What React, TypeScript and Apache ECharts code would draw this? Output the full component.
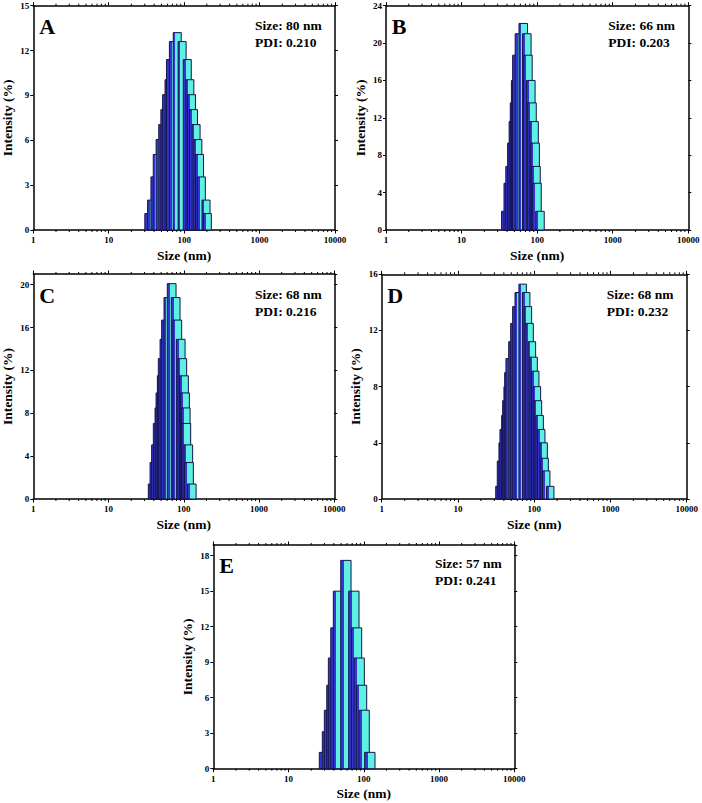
import React, { useEffect, useRef } from "react";
import * as echarts from "echarts";

// ---------- text ----------
const PANEL_LETTERS = ["A", "B", "C", "D", "E"];
const SIZE_LABELS = ["Size: 80 nm", "Size: 66 nm", "Size: 68 nm", "Size: 68 nm", "Size: 57 nm"];
const PDI_LABELS = ["PDI: 0.210", "PDI: 0.203", "PDI: 0.216", "PDI: 0.232", "PDI: 0.241"];
const X_NAME = "Size (nm)";
const Y_NAME = "Intensity (%)";

// ---------- axes ----------
const X_MIN = 1;
const X_MAX = 10000;
const X_MINOR_TICKS = [
  2, 3, 4, 5, 6, 7, 8, 9,
  20, 30, 40, 50, 60, 70, 80, 90,
  200, 300, 400, 500, 600, 700, 800, 900,
  2000, 3000, 4000, 5000, 6000, 7000, 8000, 9000,
];
const Y_MAX = [15, 24, 21, 16, 18.9];
const Y_INTERVAL = [3, 4, 4, 4, 3];

// ---------- data (size nm, intensity %) ----------
const A_SIZES = [34, 37, 41, 44, 48, 52, 55.5, 58.5, 63, 66, 72, 81, 94, 110, 119, 125, 133, 144, 152, 160, 169, 195, 203];
const A_INTENSITY = [1.1, 2.0, 3.55, 5.05, 6.05, 7.05, 8.05, 9.05, 10.05, 11.4, 12.6, 13.2, 12.6, 11.4, 10.05, 9.05, 8.05, 7.05, 6.05, 5.05, 3.55, 2.0, 1.1];

const B_SIZES = [38.5, 41.5, 43.8, 46.3, 48.5, 50.2, 52, 54, 58.3, 65.5, 73, 75.5, 82.5, 85.5, 91, 94, 96.5, 99.5, 109];
const B_INTENSITY = [2.0, 5.0, 6.8, 9.3, 11.6, 13.6, 16.0, 18.7, 21.0, 22.1, 21.0, 18.7, 16.0, 13.6, 11.6, 9.3, 6.8, 5.0, 2.0];

const C_SIZES = [38.6, 40.7, 42.7, 45, 47.4, 48.9, 50.9, 52.4, 55.3, 58, 62.4, 69, 78, 82, 91, 95.5, 100.6, 103.8, 106, 108, 114.7, 117.2, 127.4];
const C_INTENSITY = [1.4, 3.4, 5.05, 7.05, 8.5, 9.9, 11.5, 13.1, 14.9, 16.7, 18.8, 20.1, 18.8, 16.7, 14.9, 13.1, 11.5, 9.9, 8.5, 7.05, 5.05, 3.4, 1.4];

const D_SIZES = [35, 36.7, 38.6, 39.8, 41.9, 43.2, 44.9, 45.9, 47.7, 51.8, 55, 58.4, 62.7, 70.6, 78.5, 82.7, 87, 93.3, 98.2, 103.1, 108.5, 111.9, 117.8, 123.6, 132.9, 136.9, 143.7, 162.1];
const D_INTENSITY = [0.9, 2.7, 4.0, 4.95, 5.95, 7.0, 8.0, 9.0, 10.0, 11.2, 12.5, 13.7, 14.7, 15.3, 14.7, 13.7, 12.5, 11.2, 10.1, 9.1, 8.0, 7.0, 5.95, 4.95, 4.0, 2.9, 2.0, 0.9];

const E_SIZES = [30, 32.9, 35, 37.7, 39.6, 42.6, 46.1, 57.8, 73.8, 80.1, 86.8, 93.3, 101.1, 120.3];
const E_INTENSITY = [1.38, 3.12, 4.94, 7.05, 9.35, 11.9, 15.0, 17.6, 15.0, 11.9, 9.35, 7.05, 4.94, 1.38];

const PANEL_SIZES = [A_SIZES, B_SIZES, C_SIZES, D_SIZES, E_SIZES];
const PANEL_INTENSITY = [A_INTENSITY, B_INTENSITY, C_INTENSITY, D_INTENSITY, E_INTENSITY];

// ---------- layout / style ----------
const LAYOUT = [
  { left: 33.3, top: 5.7, width: 301.7, height: 224.3 },
  { left: 386, top: 5.7, width: 302.3, height: 224.3 },
  { left: 33.3, top: 274, width: 301, height: 225 },
  { left: 381.7, top: 274.3, width: 305, height: 224.7 },
  { left: 213.3, top: 545, width: 301, height: 223.7 },
];
// bar width in decades (log10 units) per panel
const BAR_WIDTH_DEC = [0.106, 0.113, 0.116, 0.098, 0.137];
const LETTER_POS = [
  [39.3, 26.2], [391.7, 26.2], [39.3, 295.5], [387.3, 295.5], [219.3, 565.5],
];
const INFO_POS = [
  [255, 25.5, 42], [608.3, 25.5, 42], [255, 294.7, 311.3], [606.7, 294.7, 311.3], [435, 563.8, 580.5],
];

const FONT = "'Liberation Serif', 'Times New Roman', serif";
const BLUE = "#3535d2";
const CYAN = "#5ef0e2";
const STROKE = "#15154a";

function barFill() {
  return {
    type: "linear",
    x: 0, y: 0, x2: 1, y2: 0,
    colorStops: [
      { offset: 0, color: BLUE },
      { offset: 0.28, color: BLUE },
      { offset: 0.28, color: CYAN },
      { offset: 1, color: CYAN },
    ],
  };
}

function buildOption() {
  const grid: any[] = [];
  const xAxis: any[] = [];
  const yAxis: any[] = [];
  const series: any[] = [];
  const graphic: any[] = [];

  LAYOUT.forEach((l, i) => {
    grid.push({ ...l, containLabel: false, outerBoundsMode: "none" });
    const axisLine = { show: true, onZero: false, lineStyle: { color: "#000", width: 1.5 } };
    xAxis.push({
      type: "log", logBase: 10, gridIndex: i, min: X_MIN, max: X_MAX, position: "bottom",
      axisLine, splitLine: { show: false },
      axisTick: { show: true, length: 3.5, lineStyle: { color: "#000", width: 1 } },
      axisLabel: { show: true, margin: 5.5, fontFamily: FONT, fontWeight: "bold", fontSize: 9, color: "#000", formatter: (v: number) => String(v) },
      name: X_NAME, nameLocation: "middle", nameGap: 18,
      nameTextStyle: { fontFamily: FONT, fontWeight: "bold", fontSize: 13.5, color: "#000" },
    });
    xAxis.push({
      type: "log", logBase: 10, gridIndex: i, min: X_MIN, max: X_MAX, position: "top",
      axisLine, splitLine: { show: false },
      axisTick: { show: true, length: 3.5, lineStyle: { color: "#000", width: 1 } },
      axisLabel: { show: false },
    });
    yAxis.push({
      type: "value", gridIndex: i, min: 0, max: Y_MAX[i], interval: Y_INTERVAL[i], position: "left",
      axisLine, splitLine: { show: false },
      axisTick: { show: true, length: 3, lineStyle: { color: "#000", width: 1 } },
      axisLabel: { show: true, margin: 4, showMaxLabel: Y_MAX[i] % Y_INTERVAL[i] === 0, fontFamily: FONT, fontWeight: "bold", fontSize: 9, color: "#000" },
      name: Y_NAME, nameLocation: "middle", nameGap: 19,
      nameTextStyle: { fontFamily: FONT, fontWeight: "bold", fontSize: 13.5, color: "#000" },
    });
    yAxis.push({
      type: "value", gridIndex: i, min: 0, max: Y_MAX[i], interval: Y_INTERVAL[i], position: "right",
      axisLine, splitLine: { show: false },
      axisTick: { show: true, length: 3, lineStyle: { color: "#000", width: 1 } },
      axisLabel: { show: false },
    });

    const half = BAR_WIDTH_DEC[i] / 2;
    const sizes = PANEL_SIZES[i];
    const vals = PANEL_INTENSITY[i];
    series.push({
      type: "custom",
      xAxisIndex: i * 2,
      yAxisIndex: i * 2,
      silent: true,
      clip: false,
      data: sizes.map((s, k) => [s, vals[k]]),
      renderItem: (_p: any, api: any) => {
        const s = api.value(0) as number;
        const v = api.value(1) as number;
        const f = Math.pow(10, half);
        const p0 = api.coord([s / f, v]);
        const p1 = api.coord([s * f, 0]);
        return {
          type: "rect",
          shape: { x: p0[0], y: p0[1], width: p1[0] - p0[0], height: p1[1] - p0[1] },
          style: { fill: barFill(), stroke: STROKE, lineWidth: 1 },
        };
      },
    });
    const yMax = Y_MAX[i];
    series.push({
      type: "custom",
      xAxisIndex: i * 2,
      yAxisIndex: i * 2,
      silent: true,
      clip: false,
      data: X_MINOR_TICKS.map((v) => [v, 0]),
      renderItem: (_p: any, api: any) => {
        const v = api.value(0) as number;
        const b = api.coord([v, 0]);
        const t = api.coord([v, yMax]);
        return {
          type: "group",
          children: [
            { type: "line", shape: { x1: b[0], y1: b[1], x2: b[0], y2: b[1] + 2 }, style: { stroke: "#000", lineWidth: 1 } },
            { type: "line", shape: { x1: t[0], y1: t[1], x2: t[0], y2: t[1] - 2 }, style: { stroke: "#000", lineWidth: 1 } },
          ],
        };
      },
    });

    graphic.push({
      type: "text", x: LETTER_POS[i][0], y: LETTER_POS[i][1], silent: true,
      style: { text: PANEL_LETTERS[i], font: `bold 22px ${FONT}`, fill: "#000", align: "left", verticalAlign: "middle" },
    });
    graphic.push({
      type: "text", x: INFO_POS[i][0], y: INFO_POS[i][1], silent: true,
      style: { text: SIZE_LABELS[i], font: `bold 13.5px ${FONT}`, fill: "#000", align: "left", verticalAlign: "middle" },
    });
    graphic.push({
      type: "text", x: INFO_POS[i][0], y: INFO_POS[i][2], silent: true,
      style: { text: PDI_LABELS[i], font: `bold 13.5px ${FONT}`, fill: "#000", align: "left", verticalAlign: "middle" },
    });
  });

  return {
    animation: false,
    backgroundColor: "#ffffff",
    textStyle: { fontFamily: FONT },
    grid,
    xAxis,
    yAxis,
    series,
    graphic,
  };
}

export default function App() {
  const ref = useRef<HTMLDivElement>(null);
  useEffect(() => {
    if (!ref.current) return;
    const chart = echarts.init(ref.current, null, { renderer: "svg" });
    chart.setOption(buildOption() as any);
    return () => chart.dispose();
  }, []);
  return (
    <div
      ref={ref}
      style={{ position: "fixed", left: 0, top: 0, width: 702, height: 803, background: "#fff" }}
    />
  );
}
